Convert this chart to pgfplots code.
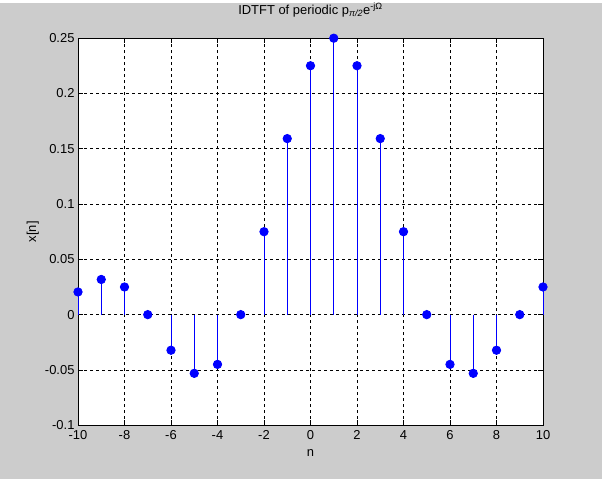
\documentclass[border=0pt]{standalone}
\usepackage{pgfplots}
\pgfplotsset{compat=1.18}
\usepackage{fontspec}
\setmainfont{Liberation Sans}
\definecolor{figgray}{RGB}{204,204,204}
\pgfplotstableread{
n x
-10 0.0205
-9 0.0318
-8 0.0250
-7 0
-6 -0.0322
-5 -0.0531
-4 -0.0450
-3 0
-2 0.0750
-1 0.1592
0 0.2251
1 0.25
2 0.2251
3 0.1592
4 0.0750
5 0
6 -0.0450
7 -0.0531
8 -0.0322
9 0
10 0.0250
}\datatab
\begin{document}
\begin{tikzpicture}
\fill[figgray] (0bp,0bp) rectangle (602bp,476bp);
\begin{axis}[
  at={(78bp,54bp)}, anchor=south west,
  scale only axis, width=465bp, height=387bp,
  xmin=-10, xmax=10, ymin=-0.1, ymax=0.25,
  axis background/.style={fill=white},
  xtick={-10,-8,...,10},
  xticklabels={-10,-8,-6,-4,-2,0,2,4,6,8,10},
  ytick={-0.1,-0.05,0,0.05,0.1,0.15,0.2,0.25},
  yticklabels={-0.1,-0.05,0,0.05,0.1,0.15,0.2,0.25},
  tick align=inside, major tick length=5bp,
  grid=major,
  grid style={black, line width=0.6bp, dash pattern=on 3bp off 3bp},
  axis line style={black, line width=0.8bp},
  tick style={black, line width=0.6bp},
  ticklabel style={font=\fontsize{13}{15}\selectfont},
  xticklabel style={yshift=-2bp},
  label style={font=\fontsize{13}{15}\selectfont},
  xlabel={n},
  ylabel={x[n]},
  xlabel style={at={(axis description cs:0.5,0)}, anchor=base, yshift=-31bp},
  ylabel style={at={(axis description cs:-0.097,0.5)}, anchor=center},
  title={IDTFT of periodic p\textsubscript{\itshape π/2}e\textsuperscript{-jΩ}},
  title style={font=\fontsize{13}{15}\selectfont, at={(axis description cs:0.5,1)}, anchor=base, yshift=18bp},
  clip=false,
]
\addplot[ycomb, blue, line width=0.8bp, mark=*, mark size=4.2bp,
  mark options={fill=blue, draw=blue, solid}] table[x=n, y=x] {\datatab};
\end{axis}
\end{tikzpicture}
\end{document}
